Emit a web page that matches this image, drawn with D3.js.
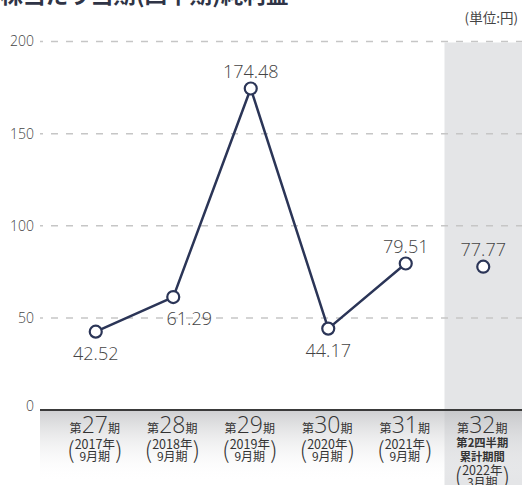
<!DOCTYPE html>
<html><head><meta charset="utf-8">
<script src="https://cdn.jsdelivr.net/npm/d3@7"></script>
<style>
html,body{margin:0;padding:0;background:#fff;}
svg{display:block;font-family:"Noto Sans CJK JP","Noto Sans",sans-serif;}
</style></head>
<body>
<svg id="chart" width="522" height="485"></svg>
<script>
// ---- data ----
const periodNumbers = ["27", "28", "29", "30", "31", "32"];
const yearLabels = ["2017年", "2018年", "2019年", "2020年", "2021年", "2022年"];
const monthLabels = ["9月期", "9月期", "9月期", "9月期", "9月期", "3月期"];
const values = [42.52, 61.29, 174.48, 44.17, 79.51, 77.77];
const lineConnected = [true, true, true, true, true, false];
const labelPlacement = ["below", "belowRight", "above", "below", "above", "above"];
const yTicks = [0, 50, 100, 150, 200];
const title = "1株当たり当期(四半期)純利益";
const unitLabel = "(単位:円)";
const quarterExtra = ["第2四半期", "累計期間"];

const svg = d3.select("#chart");
const W = 522, H = 485;
const axisLeft = 40;
const x = d3.scaleBand().domain(d3.range(values.length)).range([57, 522]).padding(0);
const y = d3.scaleLinear().domain([0, 200]).range([410, 41.5]);

const defs = svg.append("defs");
const grad = defs.append("linearGradient").attr("id", "lblgrad").attr("x1", 0).attr("y1", 0).attr("x2", 0).attr("y2", 1);
grad.append("stop").attr("offset", "0%").attr("stop-color", "#b9babd").attr("stop-opacity", 0.7);
grad.append("stop").attr("offset", "100%").attr("stop-color", "#ffffff").attr("stop-opacity", 0);

// highlighted last band
const lastIdx = values.length - 1;
svg.append("rect")
  .attr("x", x(lastIdx)).attr("y", y(200) + 1)
  .attr("width", x.bandwidth() + 1).attr("height", H - y(200))
  .attr("fill", "#e4e5e7");

// label area gradient
svg.append("rect")
  .attr("x", axisLeft).attr("y", y(0))
  .attr("width", W - axisLeft).attr("height", 72)
  .attr("fill", "url(#lblgrad)");

// gridlines
svg.append("g").selectAll("line").data(yTicks.filter(d => d > 0)).join("line")
  .attr("x1", axisLeft).attr("x2", W)
  .attr("y1", d => y(d)).attr("y2", d => y(d))
  .attr("stroke", "#c6c6c6").attr("stroke-width", 1.5)
  .attr("stroke-dasharray", "7,8").attr("stroke-dashoffset", 4);

// y axis labels
const yAxis = d3.axisLeft(y).tickValues(yTicks).tickSize(0).tickPadding(6);
const gy = svg.append("g").attr("transform", `translate(${axisLeft},0)`).call(yAxis);
gy.select(".domain").remove();
gy.selectAll("text").attr("font-size", 14).attr("fill", "#444").attr("font-weight", 300)
  .attr("font-family", "'Open Sans','Noto Sans',sans-serif");
gy.selectAll(".tick").filter(d => d === 0).select("text").attr("dy", "0.05em");

// zero line
svg.append("line").attr("x1", axisLeft).attr("x2", W).attr("y1", y(0)).attr("y2", y(0))
  .attr("stroke", "#3a3a3a").attr("stroke-width", 2);

// line
const cx = i => x(i) + x.bandwidth() / 2;
const line = d3.line().defined((d, i) => lineConnected[i]).x((d, i) => cx(i)).y(d => y(d));
svg.append("path").datum(values).attr("d", line)
  .attr("fill", "none").attr("stroke", "#2b3557").attr("stroke-width", 2.5).attr("stroke-linejoin", "round");

svg.append("g").selectAll("circle").data(values).join("circle")
  .attr("cx", (d, i) => cx(i)).attr("cy", d => y(d)).attr("r", 6)
  .attr("fill", "#fff").attr("stroke", "#2b3557").attr("stroke-width", 2.2);

// value labels
svg.append("g").selectAll("text").data(values).join("text")
  .attr("x", (d, i) => cx(i) + (labelPlacement[i] === "belowRight" ? 16 : 0))
  .attr("y", (d, i) => y(d) + (labelPlacement[i] === "above" ? -11 : 28))
  .attr("text-anchor", "middle")
  .attr("font-size", 18).attr("fill", "#444").attr("font-weight", 300)
  .attr("font-family", "'Open Sans','Noto Sans',sans-serif")
  .text(d => d.toFixed(2));

// category labels
const cat = svg.append("g").selectAll("g").data(periodNumbers).join("g")
  .attr("transform", (d, i) => `translate(${cx(i) - 1},0)`);
const head = cat.append("text").attr("y", 433).attr("text-anchor", "middle").attr("fill", "#333");
head.append("tspan").attr("font-size", 12).text("第");
head.append("tspan").attr("font-size", 23).attr("font-weight", 300)
  .attr("font-family", "'Open Sans','Noto Sans',sans-serif").text(d => d);
head.append("tspan").attr("font-size", 12).text("期");

cat.each(function(d, i) {
  const g = d3.select(this);
  const isQ = i === lastIdx;
  let base = 449;
  if (isQ) {
    quarterExtra.forEach((t, k) => {
      g.append("text").attr("y", 447 + k * 14).attr("text-anchor", "middle")
        .attr("font-size", 11.3).attr("font-weight", 700).attr("fill", "#333").text(t);
    });
    base = 475;
  }
  g.append("text").attr("y", base).attr("text-anchor", "middle")
    .attr("font-size", 12.5).attr("fill", "#333").text(yearLabels[i]);
  g.append("text").attr("y", base + 12).attr("text-anchor", "middle")
    .attr("font-size", 12).attr("fill", "#333").text(monthLabels[i]);
  [["(", -24], [")", 24]].forEach(([ch, dx]) => {
    g.append("text").attr("x", dx).attr("y", base + 10).attr("text-anchor", "middle")
      .attr("font-size", 23).attr("font-weight", 200).attr("fill", "#333")
      .attr("font-family", "'Noto Sans CJK JP',sans-serif").text(ch);
  });
});

// title and unit
svg.append("text").attr("x", -13).attr("y", 3).attr("font-size", 22.6).attr("font-weight", 700)
  .attr("fill", "#2f3446").text(title);
svg.append("text").attr("x", 518).attr("y", 23).attr("text-anchor", "end")
  .attr("font-size", 13.5).attr("fill", "#444").text(unitLabel);
</script>
</body></html>
